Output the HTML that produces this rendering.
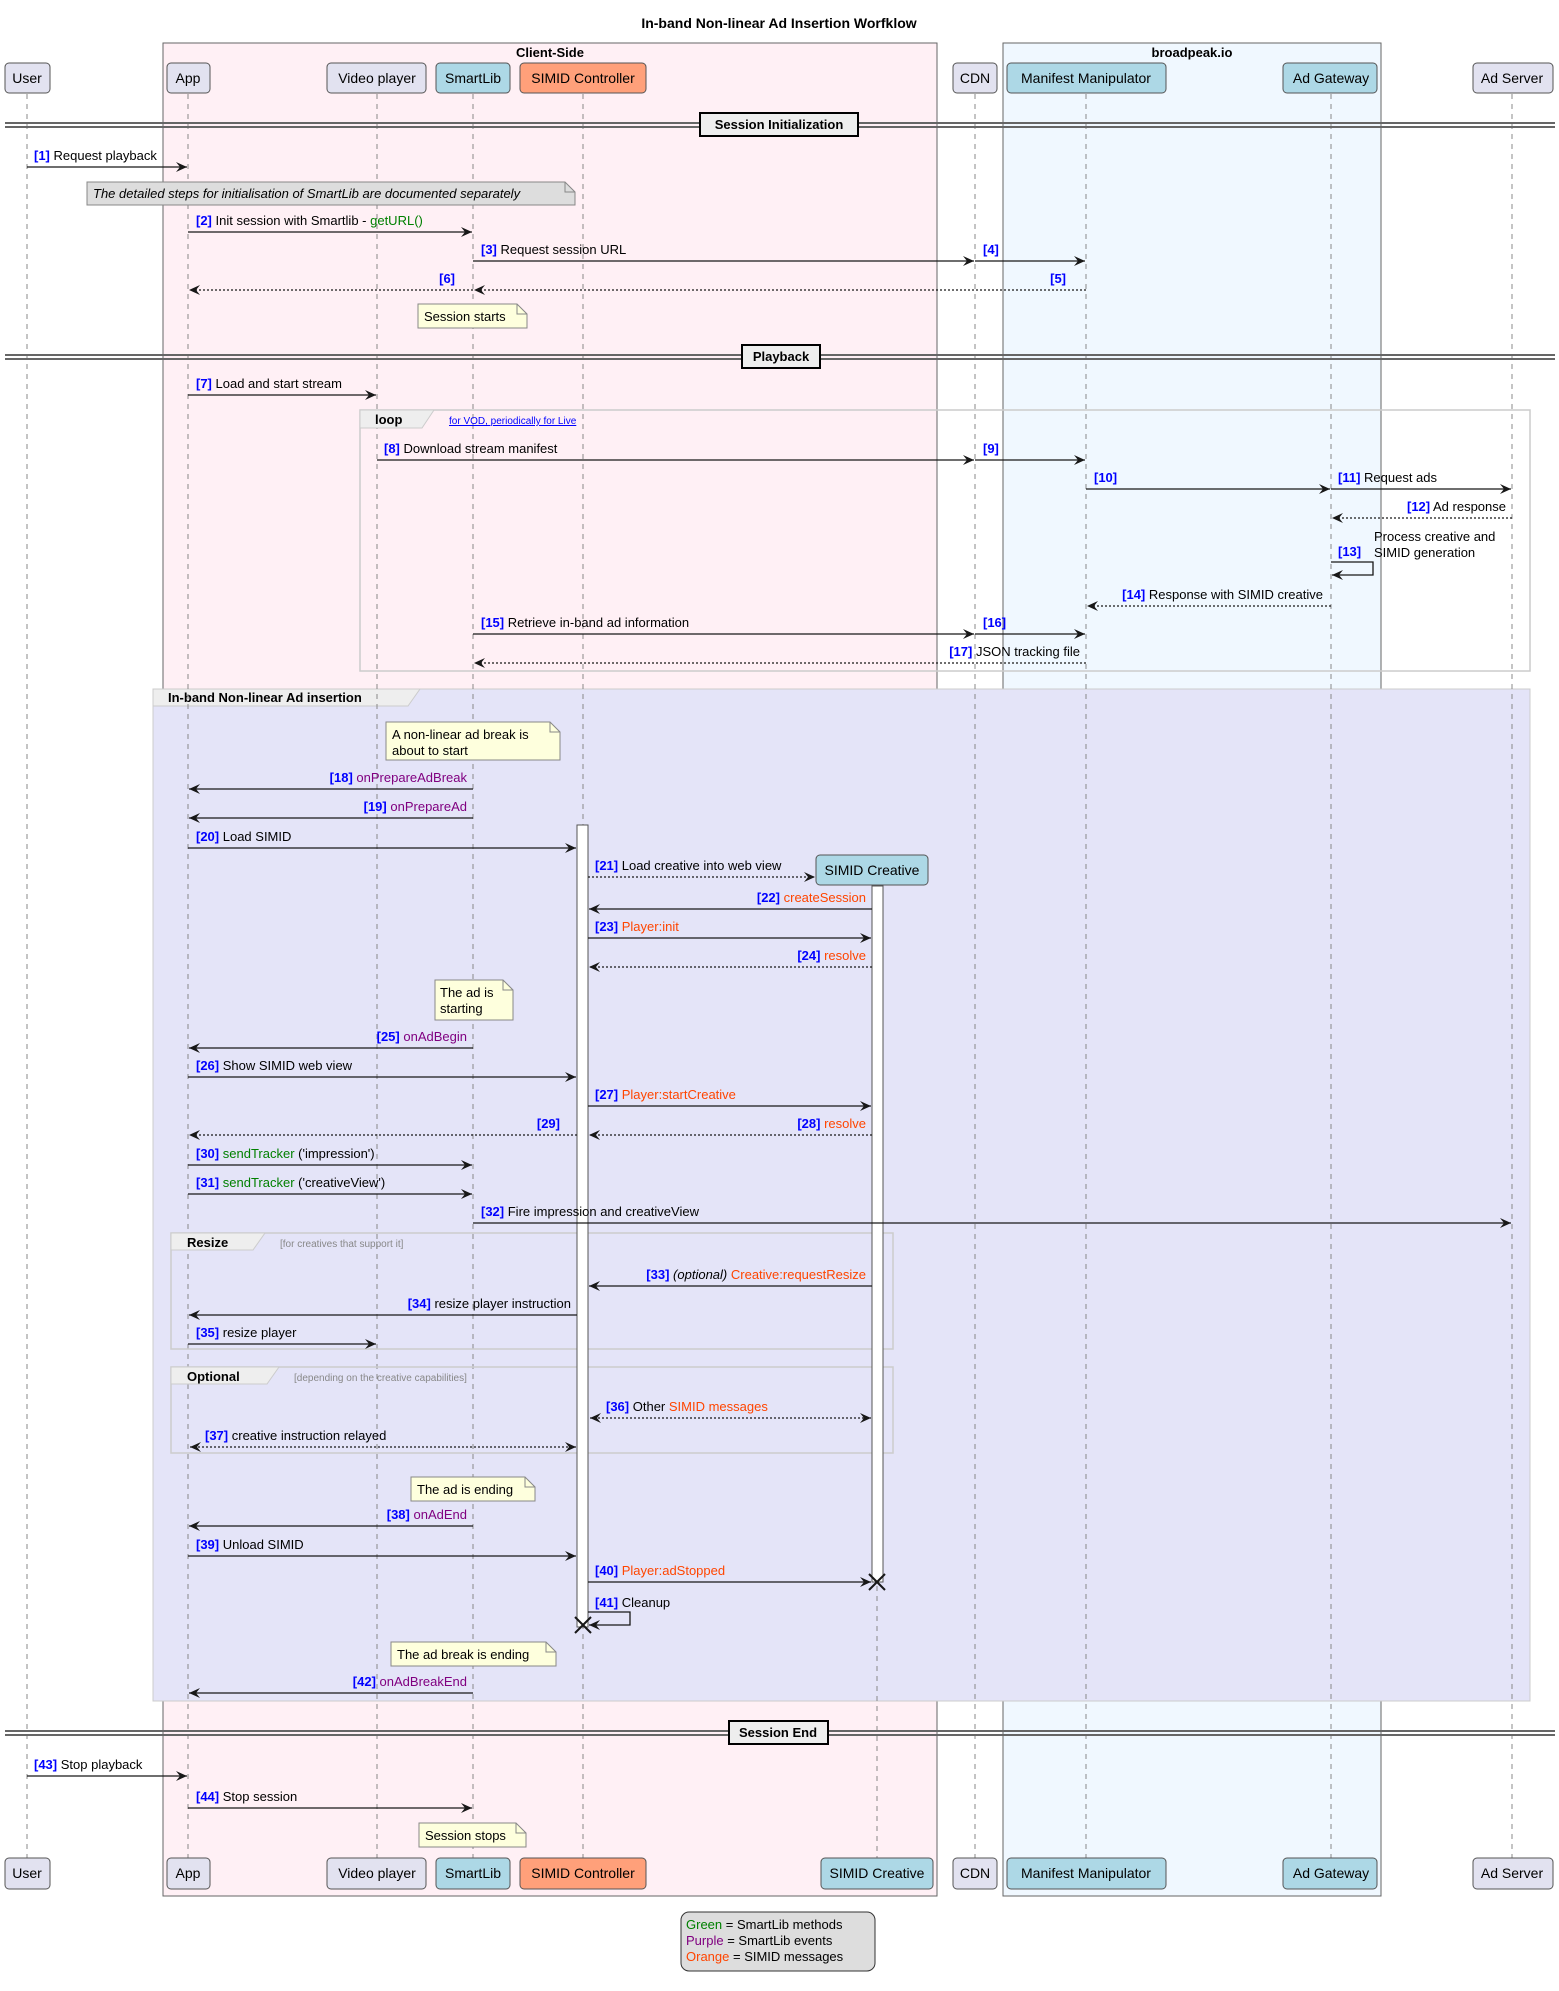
<!DOCTYPE html>
<html><head><meta charset="utf-8"><style>
html,body{margin:0;padding:0;background:#fff;}
svg{display:block;font-family:"Liberation Sans",sans-serif;}
.t{font-size:13px;fill:#000;}
.pt{font-size:14px;fill:#000;}
.n{font-weight:bold;fill:#0000ff;}
.g{fill:#008000}.p{fill:#800080}.o{fill:#ff4500}
.ll{stroke:#888;stroke-width:1;stroke-dasharray:5,5;}
.m{stroke:#181818;stroke-width:1.3;fill:none;}
.d{stroke:#181818;stroke-width:1.3;stroke-dasharray:2,2;fill:none;}
.pb{stroke:#555;stroke-width:1;rx:4;}
.note{fill:#FEFFDD;stroke:#888;stroke-width:1;}
</style></head><body>
<svg width="1559" height="1991" viewBox="0 0 1559 1991" xmlns="http://www.w3.org/2000/svg">
<defs>
<marker id="a" markerUnits="userSpaceOnUse" markerWidth="12" markerHeight="10" refX="11" refY="5" orient="auto"><path d="M0,0 L11,5 L0,10 L4,5 z" fill="#181818"/></marker>
<marker id="b" markerUnits="userSpaceOnUse" markerWidth="12" markerHeight="10" refX="1" refY="5" orient="auto"><path d="M12,0 L1,5 L12,10 L8,5 z" fill="#181818"/></marker>
</defs>
<text x="779" y="28" text-anchor="middle" font-size="14" font-weight="bold">In-band Non-linear Ad Insertion Worfklow</text>
<rect x="163" y="43" width="774" height="1853" fill="#FFF0F5" stroke="#666"/>
<text x="550" y="57" text-anchor="middle" font-size="13" font-weight="bold">Client-Side</text>
<rect x="1003" y="43" width="378" height="1853" fill="#F0F8FF" stroke="#666"/>
<text x="1192" y="57" text-anchor="middle" font-size="13" font-weight="bold">broadpeak.io</text>
<rect x="153" y="689" width="1377" height="1012" fill="#E4E4F8" stroke="#ccc"/>
<path d="M153,689 H420 L408,706 H153 Z" fill="#eee" stroke="#ccc"/>
<text x="168" y="702" font-size="13" font-weight="bold">In-band Non-linear Ad insertion</text>
<g class="ll">
<line x1="27" y1="94" x2="27" y2="1858"/><line x1="188" y1="94" x2="188" y2="1858"/>
<line x1="377" y1="94" x2="377" y2="1858"/><line x1="473" y1="94" x2="473" y2="1858"/>
<line x1="583" y1="94" x2="583" y2="1858"/><line x1="877" y1="886" x2="877" y2="1858"/>
<line x1="975" y1="94" x2="975" y2="1858"/><line x1="1086" y1="94" x2="1086" y2="1858"/>
<line x1="1331" y1="94" x2="1331" y2="1858"/><line x1="1512" y1="94" x2="1512" y2="1858"/>
</g>
<g class="pt">
<rect class="pb" x="5" y="63" width="45" height="30" fill="#E2E2F0"/><text x="27" y="83" text-anchor="middle">User</text>
<rect class="pb" x="167" y="63" width="43" height="30" fill="#E2E2F0"/><text x="188" y="83" text-anchor="middle">App</text>
<rect class="pb" x="327" y="63" width="99" height="30" fill="#E2E2F0"/><text x="377" y="83" text-anchor="middle">Video player</text>
<rect class="pb" x="436" y="63" width="74" height="30" fill="#ADD8E6"/><text x="473" y="83" text-anchor="middle">SmartLib</text>
<rect class="pb" x="520" y="63" width="126" height="30" fill="#FFA07A"/><text x="583" y="83" text-anchor="middle">SIMID Controller</text>
<rect class="pb" x="953" y="63" width="44" height="30" fill="#E2E2F0"/><text x="975" y="83" text-anchor="middle">CDN</text>
<rect class="pb" x="1007" y="63" width="159" height="30" fill="#ADD8E6"/><text x="1086" y="83" text-anchor="middle">Manifest Manipulator</text>
<rect class="pb" x="1283" y="63" width="94" height="30" fill="#ADD8E6"/><text x="1331" y="83" text-anchor="middle">Ad Gateway</text>
<rect class="pb" x="1473" y="63" width="80" height="30" fill="#E2E2F0"/><text x="1512" y="83" text-anchor="middle">Ad Server</text>
</g>
<g class="pt">
<rect class="pb" x="5" y="1858" width="45" height="31" fill="#E2E2F0"/><text x="27" y="1878" text-anchor="middle">User</text>
<rect class="pb" x="167" y="1858" width="43" height="31" fill="#E2E2F0"/><text x="188" y="1878" text-anchor="middle">App</text>
<rect class="pb" x="327" y="1858" width="99" height="31" fill="#E2E2F0"/><text x="377" y="1878" text-anchor="middle">Video player</text>
<rect class="pb" x="436" y="1858" width="74" height="31" fill="#ADD8E6"/><text x="473" y="1878" text-anchor="middle">SmartLib</text>
<rect class="pb" x="520" y="1858" width="126" height="31" fill="#FFA07A"/><text x="583" y="1878" text-anchor="middle">SIMID Controller</text>
<rect class="pb" x="821" y="1858" width="112" height="31" fill="#ADD8E6"/><text x="877" y="1878" text-anchor="middle">SIMID Creative</text>
<rect class="pb" x="953" y="1858" width="44" height="31" fill="#E2E2F0"/><text x="975" y="1878" text-anchor="middle">CDN</text>
<rect class="pb" x="1007" y="1858" width="159" height="31" fill="#ADD8E6"/><text x="1086" y="1878" text-anchor="middle">Manifest Manipulator</text>
<rect class="pb" x="1283" y="1858" width="94" height="31" fill="#ADD8E6"/><text x="1331" y="1878" text-anchor="middle">Ad Gateway</text>
<rect class="pb" x="1473" y="1858" width="80" height="31" fill="#E2E2F0"/><text x="1512" y="1878" text-anchor="middle">Ad Server</text>
</g>
<g stroke="#666" stroke-width="2">
<line x1="5" y1="123" x2="1555" y2="123"/><line x1="5" y1="127" x2="1555" y2="127"/>
<line x1="5" y1="355" x2="1555" y2="355"/><line x1="5" y1="359" x2="1555" y2="359"/>
<line x1="5" y1="1731" x2="1555" y2="1731"/><line x1="5" y1="1735" x2="1555" y2="1735"/>
</g>
<g stroke="#000" stroke-width="2" fill="#eee">
<rect x="700" y="113" width="158" height="23"/><rect x="742" y="345" width="78" height="23"/><rect x="729" y="1721" width="99" height="23"/>
</g>
<g font-size="13" font-weight="bold" text-anchor="middle">
<text x="779" y="129">Session Initialization</text><text x="781" y="361">Playback</text><text x="778" y="1737">Session End</text>
</g>
<rect x="360" y="410" width="1170" height="261" fill="none" stroke="#ccc" stroke-width="1.5"/>
<path d="M360,410 H434 L422,428 H360 Z" fill="#eee" stroke="#ccc"/>
<text x="375" y="424" font-size="13" font-weight="bold">loop</text>
<text x="449" y="424" font-size="10" fill="#0000ff" text-decoration="underline">for VOD, periodically for Live</text>
<rect x="171" y="1233" width="722" height="116" fill="none" stroke="#ccc" stroke-width="1.5"/>
<path d="M171,1233 H265 L253,1250 H171 Z" fill="#eee" stroke="#ccc"/>
<text x="187" y="1247" font-size="13" font-weight="bold">Resize</text>
<text x="280" y="1247" font-size="10" fill="#888">[for creatives that support it]</text>
<rect x="171" y="1367" width="722" height="86" fill="none" stroke="#ccc" stroke-width="1.5"/>
<path d="M171,1367 H279 L267,1384 H171 Z" fill="#eee" stroke="#ccc"/>
<text x="187" y="1381" font-size="13" font-weight="bold">Optional</text>
<text x="294" y="1381" font-size="10" fill="#888">[depending on the creative capabilities]</text>
<rect x="577" y="825" width="11" height="802" fill="#fff" stroke="#555"/>
<rect x="872" y="886" width="11" height="696" fill="#fff" stroke="#555"/>
<rect class="pb" x="816" y="855" width="112" height="30" fill="#ADD8E6"/><text class="pt" x="872" y="875" text-anchor="middle">SIMID Creative</text>
<path d="M87,182 H565 L575,192 V205 H87 Z" fill="#DDD" stroke="#888"/><path d="M565,182 V192 H575" fill="none" stroke="#888"/>
<text x="93" y="198" font-size="13" font-style="italic">The detailed steps for initialisation of SmartLib are documented separately</text>
<g class="t">
<path class="note" d="M418,304 H517 L527,314 V328 H418 Z"/><path d="M517,304 V314 H527" fill="none" stroke="#888"/><text x="424" y="321">Session starts</text>
<path class="note" d="M386,722 H550 L560,732 V760 H386 Z"/><path d="M550,722 V732 H560" fill="none" stroke="#888"/><text x="392" y="739">A non-linear ad break is</text><text x="392" y="755">about to start</text>
<path class="note" d="M435,980 H503 L513,990 V1020 H435 Z"/><path d="M503,980 V990 H513" fill="none" stroke="#888"/><text x="440" y="997">The ad is</text><text x="440" y="1013">starting</text>
<path class="note" d="M411,1477 H525 L535,1487 V1501 H411 Z"/><path d="M525,1477 V1487 H535" fill="none" stroke="#888"/><text x="417" y="1494">The ad is ending</text>
<path class="note" d="M391,1642 H546 L556,1652 V1666 H391 Z"/><path d="M546,1642 V1652 H556" fill="none" stroke="#888"/><text x="397" y="1659">The ad break is ending</text>
<path class="note" d="M419,1823 H516 L526,1833 V1847 H419 Z"/><path d="M516,1823 V1833 H526" fill="none" stroke="#888"/><text x="425" y="1840">Session stops</text>
</g>
<g class="t">
<line class="m" x1="27" y1="167" x2="187" y2="167" marker-end="url(#a)"/><text x="34" y="160"><tspan class="n">[1]</tspan>  Request playback</text>
<line class="m" x1="188" y1="232" x2="472" y2="232" marker-end="url(#a)"/><text x="196" y="225"><tspan class="n">[2]</tspan>  Init session with Smartlib - <tspan class="g">getURL()</tspan></text>
<line class="m" x1="473" y1="261" x2="974" y2="261" marker-end="url(#a)"/><text x="481" y="254"><tspan class="n">[3]</tspan>  Request session URL</text>
<line class="m" x1="975" y1="261" x2="1085" y2="261" marker-end="url(#a)"/><text x="983" y="254" class="n">[4]</text>
<line class="d" x1="1086" y1="290" x2="474" y2="290" marker-end="url(#a)"/><text x="1066" y="283" class="n" text-anchor="end">[5]</text>
<line class="d" x1="473" y1="290" x2="189" y2="290" marker-end="url(#a)"/><text x="455" y="283" class="n" text-anchor="end">[6]</text>
<line class="m" x1="188" y1="395" x2="376" y2="395" marker-end="url(#a)"/><text x="196" y="388"><tspan class="n">[7]</tspan>  Load and start stream</text>
<line class="m" x1="377" y1="460" x2="974" y2="460" marker-end="url(#a)"/><text x="384" y="453"><tspan class="n">[8]</tspan>  Download stream manifest</text>
<line class="m" x1="975" y1="460" x2="1085" y2="460" marker-end="url(#a)"/><text x="983" y="453" class="n">[9]</text>
<line class="m" x1="1086" y1="489" x2="1330" y2="489" marker-end="url(#a)"/><text x="1094" y="482" class="n">[10]</text>
<line class="m" x1="1331" y1="489" x2="1511" y2="489" marker-end="url(#a)"/><text x="1338" y="482"><tspan class="n">[11]</tspan>  Request ads</text>
<line class="d" x1="1512" y1="518" x2="1332" y2="518" marker-end="url(#a)"/><text x="1506" y="511" text-anchor="end"><tspan class="n">[12]</tspan>  Ad response</text>
<path class="m" d="M1331,562 H1373 V575 H1332" marker-end="url(#a)"/><text x="1338" y="556" class="n">[13]</text><text x="1374" y="541">Process creative and</text><text x="1374" y="557">SIMID generation</text>
<line class="d" x1="1331" y1="606" x2="1087" y2="606" marker-end="url(#a)"/><text x="1323" y="599" text-anchor="end"><tspan class="n">[14]</tspan>  Response with SIMID creative</text>
<line class="m" x1="473" y1="634" x2="974" y2="634" marker-end="url(#a)"/><text x="481" y="627"><tspan class="n">[15]</tspan>  Retrieve in-band ad information</text>
<line class="m" x1="975" y1="634" x2="1085" y2="634" marker-end="url(#a)"/><text x="983" y="627" class="n">[16]</text>
<line class="d" x1="1086" y1="663" x2="474" y2="663" marker-end="url(#a)"/><text x="1080" y="656" text-anchor="end"><tspan class="n">[17]</tspan>  JSON tracking file</text>
<line class="m" x1="473" y1="789" x2="189" y2="789" marker-end="url(#a)"/><text x="467" y="782" text-anchor="end"><tspan class="n">[18]</tspan>  <tspan class="p">onPrepareAdBreak</tspan></text>
<line class="m" x1="473" y1="818" x2="189" y2="818" marker-end="url(#a)"/><text x="467" y="811" text-anchor="end"><tspan class="n">[19]</tspan>  <tspan class="p">onPrepareAd</tspan></text>
<line class="m" x1="188" y1="848" x2="576" y2="848" marker-end="url(#a)"/><text x="196" y="841"><tspan class="n">[20]</tspan>  Load SIMID</text>
<line class="d" x1="588" y1="877" x2="815" y2="877" marker-end="url(#a)"/><text x="595" y="870"><tspan class="n">[21]</tspan>  Load creative into web view</text>
<line class="m" x1="872" y1="909" x2="589" y2="909" marker-end="url(#a)"/><text x="866" y="902" text-anchor="end"><tspan class="n">[22]</tspan>  <tspan class="o">createSession</tspan></text>
<line class="m" x1="588" y1="938" x2="871" y2="938" marker-end="url(#a)"/><text x="595" y="931"><tspan class="n">[23]</tspan>  <tspan class="o">Player:init</tspan></text>
<line class="d" x1="872" y1="967" x2="589" y2="967" marker-end="url(#a)"/><text x="866" y="960" text-anchor="end"><tspan class="n">[24]</tspan>  <tspan class="o">resolve</tspan></text>
<line class="m" x1="473" y1="1048" x2="189" y2="1048" marker-end="url(#a)"/><text x="467" y="1041" text-anchor="end"><tspan class="n">[25]</tspan>  <tspan class="p">onAdBegin</tspan></text>
<line class="m" x1="188" y1="1077" x2="576" y2="1077" marker-end="url(#a)"/><text x="196" y="1070"><tspan class="n">[26]</tspan>  Show SIMID web view</text>
<line class="m" x1="588" y1="1106" x2="871" y2="1106" marker-end="url(#a)"/><text x="595" y="1099"><tspan class="n">[27]</tspan>  <tspan class="o">Player:startCreative</tspan></text>
<line class="d" x1="872" y1="1135" x2="589" y2="1135" marker-end="url(#a)"/><text x="866" y="1128" text-anchor="end"><tspan class="n">[28]</tspan>  <tspan class="o">resolve</tspan></text>
<line class="d" x1="577" y1="1135" x2="189" y2="1135" marker-end="url(#a)"/><text x="560" y="1128" class="n" text-anchor="end">[29]</text>
<line class="m" x1="188" y1="1165" x2="472" y2="1165" marker-end="url(#a)"/><text x="196" y="1158"><tspan class="n">[30]</tspan>  <tspan class="g">sendTracker</tspan> ('impression')</text>
<line class="m" x1="188" y1="1194" x2="472" y2="1194" marker-end="url(#a)"/><text x="196" y="1187"><tspan class="n">[31]</tspan>  <tspan class="g">sendTracker</tspan> ('creativeView')</text>
<line class="m" x1="473" y1="1223" x2="1511" y2="1223" marker-end="url(#a)"/><text x="481" y="1216"><tspan class="n">[32]</tspan>  Fire impression and creativeView</text>
<line class="m" x1="872" y1="1286" x2="589" y2="1286" marker-end="url(#a)"/><text x="866" y="1279" text-anchor="end"><tspan class="n">[33]</tspan>  <tspan font-style="italic">(optional)</tspan> <tspan class="o">Creative:requestResize</tspan></text>
<line class="m" x1="577" y1="1315" x2="189" y2="1315" marker-end="url(#a)"/><text x="571" y="1308" text-anchor="end"><tspan class="n">[34]</tspan>  resize player instruction</text>
<line class="m" x1="188" y1="1344" x2="376" y2="1344" marker-end="url(#a)"/><text x="196" y="1337"><tspan class="n">[35]</tspan>  resize player</text>
<line class="d" x1="590" y1="1418" x2="871" y2="1418" marker-start="url(#b)" marker-end="url(#a)"/><text x="606" y="1411"><tspan class="n">[36]</tspan>  Other <tspan class="o">SIMID messages</tspan></text>
<line class="d" x1="190" y1="1447" x2="576" y2="1447" marker-start="url(#b)" marker-end="url(#a)"/><text x="205" y="1440"><tspan class="n">[37]</tspan>  creative instruction relayed</text>
<line class="m" x1="473" y1="1526" x2="189" y2="1526" marker-end="url(#a)"/><text x="467" y="1519" text-anchor="end"><tspan class="n">[38]</tspan>  <tspan class="p">onAdEnd</tspan></text>
<line class="m" x1="188" y1="1556" x2="576" y2="1556" marker-end="url(#a)"/><text x="196" y="1549"><tspan class="n">[39]</tspan>  Unload SIMID</text>
<line class="m" x1="588" y1="1582" x2="871" y2="1582" marker-end="url(#a)"/><text x="595" y="1575"><tspan class="n">[40]</tspan>  <tspan class="o">Player:adStopped</tspan></text>
<path class="m" d="M588,1612 H630 V1625 H589" marker-end="url(#a)"/><text x="595" y="1607"><tspan class="n">[41]</tspan>  Cleanup</text>
<line class="m" x1="473" y1="1693" x2="189" y2="1693" marker-end="url(#a)"/><text x="467" y="1686" text-anchor="end"><tspan class="n">[42]</tspan>  <tspan class="p">onAdBreakEnd</tspan></text>
<line class="m" x1="27" y1="1776" x2="187" y2="1776" marker-end="url(#a)"/><text x="34" y="1769"><tspan class="n">[43]</tspan>  Stop playback</text>
<line class="m" x1="188" y1="1808" x2="472" y2="1808" marker-end="url(#a)"/><text x="196" y="1801"><tspan class="n">[44]</tspan>  Stop session</text>
</g>
<g stroke="#181818" stroke-width="2">
<line x1="869" y1="1574" x2="885" y2="1590"/><line x1="885" y1="1574" x2="869" y2="1590"/>
<line x1="575" y1="1617" x2="591" y2="1633"/><line x1="591" y1="1617" x2="575" y2="1633"/>
</g>
<rect x="681" y="1912" width="194" height="59" rx="8" fill="#DDD" stroke="#333"/>
<g class="t">
<text x="686" y="1929"><tspan class="g">Green</tspan> = SmartLib methods</text>
<text x="686" y="1945"><tspan class="p">Purple</tspan> = SmartLib events</text>
<text x="686" y="1961"><tspan class="o">Orange</tspan> = SIMID messages</text>
</g>
</svg>
</body></html>
